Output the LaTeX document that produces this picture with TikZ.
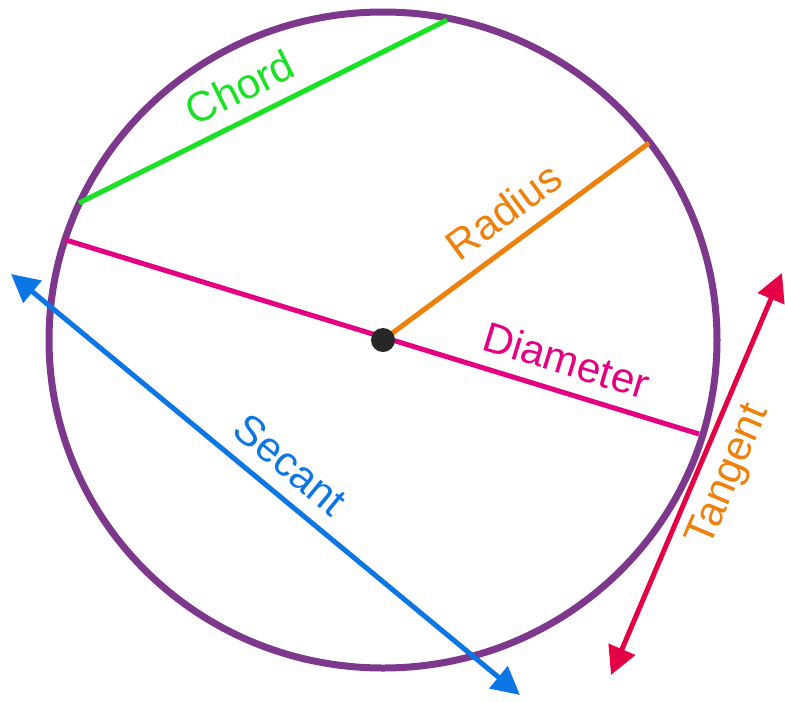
\documentclass[tikz,border=0pt]{standalone}
\usepackage{fontspec}
\setmainfont{Liberation Sans}
\usetikzlibrary{arrows.meta}
\definecolor{ringpurple}{RGB}{125,55,140}
\definecolor{chordgreen}{RGB}{25,225,35}
\definecolor{radiusorange}{RGB}{238,128,12}
\definecolor{diampink}{RGB}{228,0,130}
\definecolor{secantblue}{RGB}{12,118,228}
\definecolor{tangentred}{RGB}{228,0,68}

\begin{document}
\begin{tikzpicture}[x=0.02cm, y=-0.02cm, >={Triangle[length=0.56cm, width=0.56cm]},
  seg/.style={line width=0.1cm},
  lbl/.style={font=\fontsize{24}{28}\selectfont, sloped, inner sep=0.28cm}]
  \useasboundingbox (0,0) rectangle (785,701);
  % Circle
  \coordinate (O) at (383,340);
  \draw[ringpurple, line width=0.14cm] (O) ellipse [x radius=334, y radius=328];
  % Points on and off the circle
  \coordinate (chordA) at (79,203);
  \coordinate (chordB) at (447,20);
  \coordinate (diamA) at (66,240);
  \coordinate (diamB) at (699,434);
  \coordinate (radEnd) at (649,143);
  \coordinate (secA) at (11,274);
  \coordinate (secB) at (520,695);
  \coordinate (tanA) at (611,675);
  \coordinate (tanB) at (782,273);
  % Chord
  \draw[seg, chordgreen] (chordA) -- (chordB)
    node (chordlbl) [lbl, pos=0.475, above] {Chord};
  % Diameter
  \draw[seg, diampink] (diamA) -- (diamB)
    node (diamlbl) [lbl, pos=0.776, above] {Diameter};
  % Radius
  \draw[seg, radiusorange] (O) -- (radEnd)
    node (radlbl) [lbl, pos=0.525, above] {Radius};
  % Secant
  \draw[seg, secantblue, <->] (secA) -- (secB)
    node (seclbl) [lbl, pos=0.51, above] {Secant};
  % Tangent
  \draw[seg, tangentred, <->] (tanA) -- (tanB)
    node (tanlbl) [lbl, pos=0.526, below, text=radiusorange, inner sep=0.2cm] {Tangent};
  % Centre
  \fill[black!85] (O) circle [radius=12];
\end{tikzpicture}
\end{document}
